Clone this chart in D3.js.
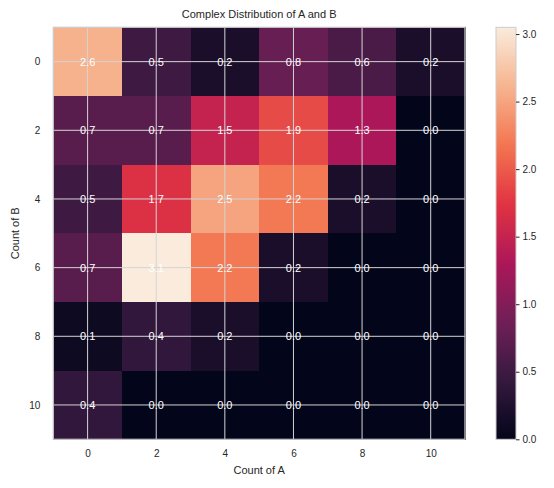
<!DOCTYPE html>
<html>
<head>
<meta charset="utf-8">
<script src="https://cdn.jsdelivr.net/npm/d3@7"></script>
<style>
  body { margin: 0; background: #fff; }
  svg text { font-family: "Liberation Sans", Arial, sans-serif; fill: #262626; }
</style>
</head>
<body>
<div id="chart"></div>
<script>
// heatmap values, rows = Count of B, columns = Count of A
var countsA = [0, 2, 4, 6, 8, 10];
var countsB = [0, 2, 4, 6, 8, 10];
var values = [
  [2.6, 0.5, 0.2, 0.8, 0.6, 0.2],
  [0.7, 0.7, 1.5, 1.9, 1.3, 0.0],
  [0.5, 1.7, 2.5, 2.2, 0.2, 0.0],
  [0.7, 3.1, 2.2, 0.2, 0.0, 0.0],
  [0.1, 0.4, 0.2, 0.0, 0.0, 0.0],
  [0.4, 0.0, 0.0, 0.0, 0.0, 0.0]
];
var colorbarTicks = [0, 0.5, 1.0, 1.5, 2.0, 2.5, 3.0];
var colorMax = 3.05;

// rocket colormap, piecewise
var rocketStops = [0, 1/7, 2/7, 3/7, 4/7, 5/7, 6/7, 1];
var rocketColors = ["#03051a", "#35193e", "#701f57", "#ad1759", "#e13342", "#f37651", "#f6b48f", "#faebdd"];

function init(){
  var w = 554, h = 488;
  var left = 53.3, right = 465, top = 27.3, bottom = 439.3;

  var svg = d3.select("#chart").append("svg")
    .attr("width", w).attr("height", h);

  var xScale = d3.scaleLinear().domain([-1, 11]).range([left, right]);
  var yScale = d3.scaleLinear().domain([-1, 11]).range([top, bottom]);
  var rocket = d3.scaleLinear().domain(rocketStops).range(rocketColors).interpolate(d3.interpolateRgb);
  var color = function(v) { return rocket(Math.min(1, Math.max(0, v / colorMax))); };

  var cells = [];
  values.forEach(function(row, i) {
    row.forEach(function(v, j) {
      cells.push({a: countsA[j], b: countsB[i], v: v});
    });
  });

  // cells
  svg.append("g").attr("shape-rendering", "crispEdges").selectAll("rect")
    .data(cells).enter().append("rect")
    .attr("x", function(d) { return xScale(d.a - 1); })
    .attr("y", function(d) { return yScale(d.b - 1); })
    .attr("width", function(d) { return xScale(d.a + 1) - xScale(d.a - 1) + 0.5; })
    .attr("height", function(d) { return yScale(d.b + 1) - yScale(d.b - 1) + 0.5; })
    .attr("fill", function(d) { return color(d.v); });

  // grid
  var grid = svg.append("g").attr("stroke", "#d4d4d4").attr("stroke-width", 1);
  grid.selectAll("line.gx").data(countsA).enter().append("line")
    .attr("x1", function(d) { return xScale(d); }).attr("x2", function(d) { return xScale(d); })
    .attr("y1", top).attr("y2", bottom);
  grid.selectAll("line.gy").data(countsB).enter().append("line")
    .attr("y1", function(d) { return yScale(d); }).attr("y2", function(d) { return yScale(d); })
    .attr("x1", left).attr("x2", right);

  // annotations
  svg.append("g").selectAll("text")
    .data(cells).enter().append("text")
    .attr("x", function(d) { return xScale(d.a); })
    .attr("y", function(d) { return yScale(d.b); })
    .attr("dy", "0.36em")
    .attr("text-anchor", "middle")
    .style("fill", "#ffffff")
    .style("font-size", "11px")
    .text(function(d) { return d.v.toFixed(1); });

  // frame
  svg.append("rect")
    .attr("x", left).attr("y", top)
    .attr("width", right - left).attr("height", bottom - top)
    .attr("fill", "none").attr("stroke", "#cccccc").attr("stroke-width", 1.25);

  // axes
  var xAxis = d3.axisBottom(xScale).tickValues(countsA).tickSize(0).tickPadding(11);
  var gx = svg.append("g").attr("transform", "translate(0," + bottom + ")").call(xAxis);
  gx.select(".domain").remove();
  gx.selectAll("text").style("font-size", "10px");

  var yAxis = d3.axisLeft(yScale).tickValues(countsB).tickSize(0).tickPadding(13);
  var gy = svg.append("g").attr("transform", "translate(" + left + ",0)").call(yAxis);
  gy.select(".domain").remove();
  gy.selectAll("text").style("font-size", "10px");

  svg.append("text")
    .attr("x", (left + right) / 2).attr("y", 474)
    .attr("text-anchor", "middle").style("font-size", "11px")
    .text("Count of A");
  svg.append("text")
    .attr("transform", "translate(19," + ((top + bottom) / 2) + ") rotate(-90)")
    .attr("text-anchor", "middle").style("font-size", "11px")
    .text("Count of B");
  svg.append("text")
    .attr("x", (left + right) / 2).attr("y", 18)
    .attr("text-anchor", "middle").style("font-size", "11px")
    .text("Complex Distribution of A and B");

  // colorbar
  var cbLeft = 496, cbRight = 516;
  var cbScale = d3.scaleLinear().domain([0, colorMax]).range([bottom, top]);
  var defs = svg.append("defs");
  var grad = defs.append("linearGradient").attr("id", "cbgrad")
    .attr("x1", 0).attr("y1", 1).attr("x2", 0).attr("y2", 0);
  grad.selectAll("stop").data(d3.range(0, 1.0001, 0.02)).enter().append("stop")
    .attr("offset", function(d) { return d; })
    .attr("stop-color", function(d) { return rocket(d); });
  svg.append("rect")
    .attr("x", cbLeft).attr("y", top)
    .attr("width", cbRight - cbLeft).attr("height", bottom - top)
    .attr("fill", "url(#cbgrad)")
    .attr("stroke", "#cccccc").attr("stroke-width", 1);

  var cbAxis = d3.axisRight(cbScale).tickValues(colorbarTicks)
    .tickFormat(d3.format(".1f")).tickSize(3.5).tickPadding(3);
  var gc = svg.append("g").attr("transform", "translate(" + cbRight + ",0)").call(cbAxis);
  gc.select(".domain").remove();
  gc.selectAll("line").attr("stroke", "#262626").attr("stroke-width", 1);
  gc.selectAll("text").style("font-size", "10px");
}

window.onload = init;
</script>
</body>
</html>
